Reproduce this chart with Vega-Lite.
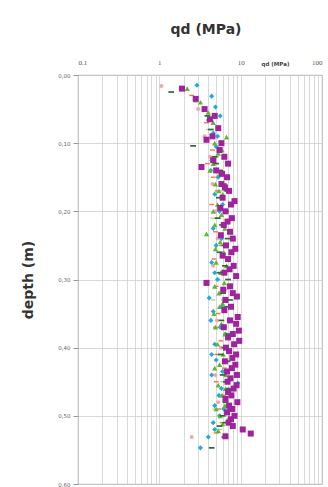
{
  "$schema": "https://vega.github.io/schema/vega-lite/v6.json",
  "width": 244,
  "height": 409,
  "autosize": {"type": "none"},
  "padding": {"left": 78, "top": 75, "right": 6, "bottom": 3},
  "background": "white",
  "title": {"text": "qd (MPa)", "fontSize": 14, "font": "DejaVu Sans", "fontWeight": "bold", "color": "#333", "anchor": "middle", "offset": 21, "dx": 6},
  "data": {"values": [
    {"s":"K","d":0.016,"q":1.06},{"s":"K","d":0.05,"q":3.0},{"s":"K","d":0.09,"q":3.6},{"s":"K","d":0.12,"q":4.2},{"s":"K","d":0.16,"q":4.5},{"s":"K","d":0.2,"q":4.9},{"s":"K","d":0.24,"q":5.2},{"s":"K","d":0.28,"q":4.6},{"s":"K","d":0.32,"q":5.6},{"s":"K","d":0.36,"q":5.1},{"s":"K","d":0.4,"q":5.7},{"s":"K","d":0.44,"q":4.9},{"s":"K","d":0.48,"q":5.3},{"s":"K","d":0.531,"q":2.5},
    {"s":"LG","d":0.04,"q":2.8},{"s":"LG","d":0.08,"q":4.0},{"s":"LG","d":0.12,"q":5.1},{"s":"LG","d":0.17,"q":5.6},{"s":"LG","d":0.21,"q":4.5},{"s":"LG","d":0.25,"q":6.0},{"s":"LG","d":0.29,"q":5.1},{"s":"LG","d":0.33,"q":4.6},{"s":"LG","d":0.37,"q":6.3},{"s":"LG","d":0.41,"q":5.0},{"s":"LG","d":0.45,"q":6.0},{"s":"LG","d":0.49,"q":4.8},{"s":"LG","d":0.52,"q":5.6},
    {"s":"O","d":0.03,"q":2.5},{"s":"O","d":0.07,"q":3.8},{"s":"O","d":0.11,"q":4.5},{"s":"O","d":0.13,"q":3.9},{"s":"O","d":0.15,"q":4.6},{"s":"O","d":0.17,"q":5.1},{"s":"O","d":0.19,"q":4.4},{"s":"O","d":0.21,"q":5.4},{"s":"O","d":0.23,"q":4.9},{"s":"O","d":0.25,"q":5.8},{"s":"O","d":0.27,"q":4.7},{"s":"O","d":0.29,"q":5.5},{"s":"O","d":0.31,"q":5.0},{"s":"O","d":0.33,"q":6.2},{"s":"O","d":0.35,"q":5.3},{"s":"O","d":0.37,"q":4.9},{"s":"O","d":0.39,"q":5.7},{"s":"O","d":0.41,"q":5.2},{"s":"O","d":0.43,"q":6.3},{"s":"O","d":0.45,"q":5.0},{"s":"O","d":0.47,"q":6.1},{"s":"O","d":0.49,"q":5.4},{"s":"O","d":0.51,"q":5.9},{"s":"O","d":0.525,"q":5.0},
    {"s":"C","d":0.015,"q":2.9},{"s":"C","d":0.031,"q":4.4},{"s":"C","d":0.047,"q":4.9},{"s":"C","d":0.066,"q":4.0},{"s":"C","d":0.085,"q":4.6},{"s":"C","d":0.105,"q":5.0},{"s":"C","d":0.125,"q":4.4},{"s":"C","d":0.15,"q":5.3},{"s":"C","d":0.175,"q":4.8},{"s":"C","d":0.2,"q":5.5},{"s":"C","d":0.225,"q":4.6},{"s":"C","d":0.25,"q":5.0},{"s":"C","d":0.275,"q":4.4},{"s":"C","d":0.3,"q":5.2},{"s":"C","d":0.315,"q":6.3},{"s":"C","d":0.327,"q":4.1},{"s":"C","d":0.347,"q":4.6},{"s":"C","d":0.37,"q":5.6},{"s":"C","d":0.395,"q":4.8},{"s":"C","d":0.418,"q":5.0},{"s":"C","d":0.435,"q":6.0},{"s":"C","d":0.452,"q":9.2},{"s":"C","d":0.47,"q":5.4},{"s":"C","d":0.485,"q":4.8},{"s":"C","d":0.5,"q":5.5},{"s":"C","d":0.51,"q":4.6},{"s":"C","d":0.52,"q":4.8},{"s":"C","d":0.531,"q":4.0},{"s":"C","d":0.547,"q":3.2},
    {"s":"C","d":0.06,"q":5.6},{"s":"C","d":0.09,"q":5.2},{"s":"C","d":0.14,"q":4.3},{"s":"C","d":0.19,"q":6.0},{"s":"C","d":0.24,"q":5.8},{"s":"C","d":0.29,"q":4.8},{"s":"C","d":0.34,"q":5.9},{"s":"C","d":0.36,"q":4.3},{"s":"C","d":0.38,"q":6.5},{"s":"C","d":0.41,"q":4.4},{"s":"C","d":0.44,"q":4.4},{"s":"C","d":0.46,"q":5.8},{"s":"C","d":0.49,"q":6.2},
    {"s":"G","d":0.02,"q":2.2},{"s":"G","d":0.04,"q":3.2},{"s":"G","d":0.055,"q":4.0},{"s":"G","d":0.07,"q":4.6},{"s":"G","d":0.091,"q":6.7},{"s":"G","d":0.1,"q":4.8},{"s":"G","d":0.115,"q":5.3},{"s":"G","d":0.13,"q":4.6},{"s":"G","d":0.145,"q":5.5},{"s":"G","d":0.16,"q":4.9},{"s":"G","d":0.175,"q":6.0},{"s":"G","d":0.19,"q":5.2},{"s":"G","d":0.205,"q":5.8},{"s":"G","d":0.22,"q":4.8},{"s":"G","d":0.233,"q":3.8},{"s":"G","d":0.245,"q":5.6},{"s":"G","d":0.26,"q":6.2},{"s":"G","d":0.275,"q":5.0},{"s":"G","d":0.29,"q":5.7},{"s":"G","d":0.305,"q":6.3},{"s":"G","d":0.32,"q":5.4},{"s":"G","d":0.335,"q":6.0},{"s":"G","d":0.35,"q":4.7},{"s":"G","d":0.365,"q":5.8},{"s":"G","d":0.38,"q":6.4},{"s":"G","d":0.395,"q":5.2},{"s":"G","d":0.41,"q":6.1},{"s":"G","d":0.425,"q":5.5},{"s":"G","d":0.44,"q":6.6},{"s":"G","d":0.455,"q":5.3},{"s":"G","d":0.47,"q":5.9},{"s":"G","d":0.485,"q":6.4},{"s":"G","d":0.5,"q":5.6},{"s":"G","d":0.512,"q":6.0},{"s":"G","d":0.522,"q":5.3},
    {"s":"G","d":0.11,"q":5.9},{"s":"G","d":0.14,"q":4.2},{"s":"G","d":0.17,"q":5.4},{"s":"G","d":0.2,"q":4.6},{"s":"G","d":0.225,"q":6.4},{"s":"G","d":0.255,"q":4.9},{"s":"G","d":0.28,"q":6.7},{"s":"G","d":0.31,"q":4.8},{"s":"G","d":0.34,"q":5.5},{"s":"G","d":0.37,"q":4.9},{"s":"G","d":0.4,"q":6.8},{"s":"G","d":0.43,"q":4.8},{"s":"G","d":0.46,"q":6.5},{"s":"G","d":0.49,"q":5.0},{"s":"G","d":0.505,"q":7.0},
    {"s":"DG","d":0.025,"q":1.4},{"s":"DG","d":0.06,"q":3.9},{"s":"DG","d":0.08,"q":4.3},{"s":"DG","d":0.104,"q":2.6},{"s":"DG","d":0.12,"q":4.8},{"s":"DG","d":0.14,"q":5.6},{"s":"DG","d":0.16,"q":6.2},{"s":"DG","d":0.18,"q":5.4},{"s":"DG","d":0.2,"q":6.6},{"s":"DG","d":0.22,"q":5.9},{"s":"DG","d":0.24,"q":6.9},{"s":"DG","d":0.26,"q":5.5},{"s":"DG","d":0.28,"q":6.4},{"s":"DG","d":0.3,"q":7.0},{"s":"DG","d":0.32,"q":6.1},{"s":"DG","d":0.34,"q":6.8},{"s":"DG","d":0.36,"q":5.8},{"s":"DG","d":0.38,"q":7.1},{"s":"DG","d":0.4,"q":6.3},{"s":"DG","d":0.42,"q":6.9},{"s":"DG","d":0.44,"q":6.0},{"s":"DG","d":0.46,"q":7.2},{"s":"DG","d":0.48,"q":6.5},{"s":"DG","d":0.5,"q":6.0},{"s":"DG","d":0.515,"q":5.5},{"s":"DG","d":0.531,"q":6.3},{"s":"DG","d":0.547,"q":4.4},
    {"s":"DG","d":0.13,"q":5.0},{"s":"DG","d":0.17,"q":6.8},{"s":"DG","d":0.21,"q":5.2},{"s":"DG","d":0.25,"q":6.3},{"s":"DG","d":0.29,"q":5.6},{"s":"DG","d":0.33,"q":7.4},{"s":"DG","d":0.37,"q":6.2},{"s":"DG","d":0.41,"q":5.7},{"s":"DG","d":0.45,"q":6.6},{"s":"DG","d":0.49,"q":7.4},{"s":"DG","d":0.51,"q":6.5},
    {"s":"P","d":0.02,"q":1.9},{"s":"P","d":0.035,"q":2.8},{"s":"P","d":0.05,"q":3.6},{"s":"P","d":0.065,"q":4.2},{"s":"P","d":0.078,"q":5.3},{"s":"P","d":0.09,"q":4.5},{"s":"P","d":0.095,"q":3.8},{"s":"P","d":0.11,"q":5.5},{"s":"P","d":0.12,"q":6.3},{"s":"P","d":0.135,"q":3.3},{"s":"P","d":0.14,"q":5.0},{"s":"P","d":0.15,"q":6.8},{"s":"P","d":0.16,"q":5.8},{"s":"P","d":0.17,"q":7.2},{"s":"P","d":0.18,"q":6.0},{"s":"P","d":0.19,"q":7.6},{"s":"P","d":0.2,"q":6.5},{"s":"P","d":0.21,"q":7.8},{"s":"P","d":0.22,"q":6.2},{"s":"P","d":0.23,"q":7.4},{"s":"P","d":0.24,"q":8.0},{"s":"P","d":0.25,"q":6.6},{"s":"P","d":0.26,"q":7.7},{"s":"P","d":0.27,"q":7.0},{"s":"P","d":0.28,"q":8.2},{"s":"P","d":0.29,"q":6.3},{"s":"P","d":0.305,"q":3.8},{"s":"P","d":0.31,"q":7.4},{"s":"P","d":0.32,"q":8.0},{"s":"P","d":0.33,"q":6.5},{"s":"P","d":0.34,"q":7.6},{"s":"P","d":0.355,"q":9.2},{"s":"P","d":0.365,"q":8.8},{"s":"P","d":0.375,"q":9.5},{"s":"P","d":0.385,"q":7.0},{"s":"P","d":0.395,"q":8.3},{"s":"P","d":0.405,"q":7.2},{"s":"P","d":0.415,"q":7.9},{"s":"P","d":0.425,"q":8.6},{"s":"P","d":0.435,"q":6.8},{"s":"P","d":0.445,"q":7.5},{"s":"P","d":0.455,"q":8.9},{"s":"P","d":0.465,"q":7.0},{"s":"P","d":0.475,"q":6.5},{"s":"P","d":0.485,"q":7.2},{"s":"P","d":0.495,"q":6.8},{"s":"P","d":0.505,"q":7.6},{"s":"P","d":0.51,"q":7.1},{"s":"P","d":0.52,"q":10.6},{"s":"P","d":0.526,"q":13.3},{"s":"P","d":0.53,"q":6.5},
    {"s":"P","d":0.06,"q":4.8},{"s":"P","d":0.1,"q":5.8},{"s":"P","d":0.125,"q":4.6},{"s":"P","d":0.13,"q":7.0},{"s":"P","d":0.145,"q":5.9},{"s":"P","d":0.165,"q":6.4},{"s":"P","d":0.185,"q":8.4},{"s":"P","d":0.195,"q":5.6},{"s":"P","d":0.215,"q":6.9},{"s":"P","d":0.235,"q":5.7},{"s":"P","d":0.255,"q":8.6},{"s":"P","d":0.265,"q":6.0},{"s":"P","d":0.285,"q":7.3},{"s":"P","d":0.295,"q":8.8},{"s":"P","d":0.315,"q":6.1},{"s":"P","d":0.325,"q":9.0},{"s":"P","d":0.345,"q":6.3},{"s":"P","d":0.36,"q":7.4},{"s":"P","d":0.37,"q":6.2},{"s":"P","d":0.38,"q":8.0},{"s":"P","d":0.39,"q":9.6},{"s":"P","d":0.4,"q":6.6},{"s":"P","d":0.41,"q":8.8},{"s":"P","d":0.42,"q":6.4},{"s":"P","d":0.43,"q":7.8},{"s":"P","d":0.44,"q":9.0},{"s":"P","d":0.45,"q":6.9},{"s":"P","d":0.46,"q":8.2},{"s":"P","d":0.47,"q":7.7},{"s":"P","d":0.48,"q":9.1},{"s":"P","d":0.49,"q":7.9},{"s":"P","d":0.5,"q":8.4},{"s":"P","d":0.515,"q":8.0}
  ]},
  "mark": {"type": "point", "filled": true, "opacity": 1, "strokeWidth": 0},
  "encoding": {
    "x": {
      "field": "q", "type": "quantitative",
      "scale": {"type": "log", "domain": [0.1, 100], "nice": false},
      "axis": {
        "orient": "top",
        "values": [0.1,0.2,0.3,0.4,0.5,0.6,0.7,0.8,0.9,1,2,3,4,5,6,7,8,9,10,20,30,40,50,60,70,80,90,100],
        "labelExpr": "datum.value == 0.1 ? '0.1' : datum.value == 1 ? '1' : datum.value == 10 ? '10' : datum.value == 100 ? '100' : ''",
        "ticks": false,
        "labelPadding": 10,
        "labelFont": "Liberation Serif",
        "labelFontSize": 7,
        "labelColor": "#555",
        "labelOverlap": false,
        "domain": false,
        "grid": true,
        "gridColor": "#c8c8c8",
        "gridWidth": 0.7,
        "title": "qd (MPa)",
        "titleFontSize": 5.5,
        "titleFont": "DejaVu Sans",
        "titleFontWeight": "bold",
        "titleColor": "#444",
        "titleX": 197,
        "titleY": -12,
        "titleAlign": "center",
        "titleBaseline": "middle"
      }
    },
    "y": {
      "field": "d", "type": "quantitative",
      "scale": {"domain": [0, 0.6], "reverse": true, "nice": false},
      "axis": {
        "values": [0, 0.1, 0.2, 0.3, 0.4, 0.5, 0.6],
        "labelExpr": "replace(format(datum.value, '.2f'), '.', ',')",
        "labelFont": "DejaVu Sans",
        "labelFontSize": 5.5,
        "labelColor": "#666",
        "tickSize": 5,
        "tickColor": "#999",
        "labelPadding": 3,
        "domain": false,
        "grid": true,
        "gridColor": "#c8c8c8",
        "gridWidth": 0.7,
        "title": "depth (m)",
        "titleFont": "DejaVu Sans",
        "titleFontSize": 14,
        "titleFontWeight": "bold",
        "titleColor": "#333",
        "titlePadding": 22
      }
    },
    "color": {
      "field": "s", "type": "nominal", "legend": null,
      "scale": {"domain": ["K","LG","O","C","G","DG","P"], "range": ["#f4a6a6","#a6d87e","#f07a3a","#1fa9e1","#62b534","#2f6b2f","#a0229e"]}
    },
    "shape": {
      "field": "s", "type": "nominal", "legend": null,
      "scale": {"domain": ["K","LG","O","C","G","DG","P"], "range": ["circle","M-1,-0.3H1V0.3H-1Z","M-1,-0.3H1V0.3H-1Z","diamond","triangle-up","M-1,-0.3H1V0.3H-1Z","square"]}
    },
    "size": {
      "field": "s", "type": "nominal", "legend": null,
      "scale": {"domain": ["K","LG","O","C","G","DG","P"], "range": [16, 36, 30, 45, 50, 55, 58]}
    }
  },
  "config": {
    "view": {"stroke": "#999", "strokeWidth": 0.8}
  }
}
